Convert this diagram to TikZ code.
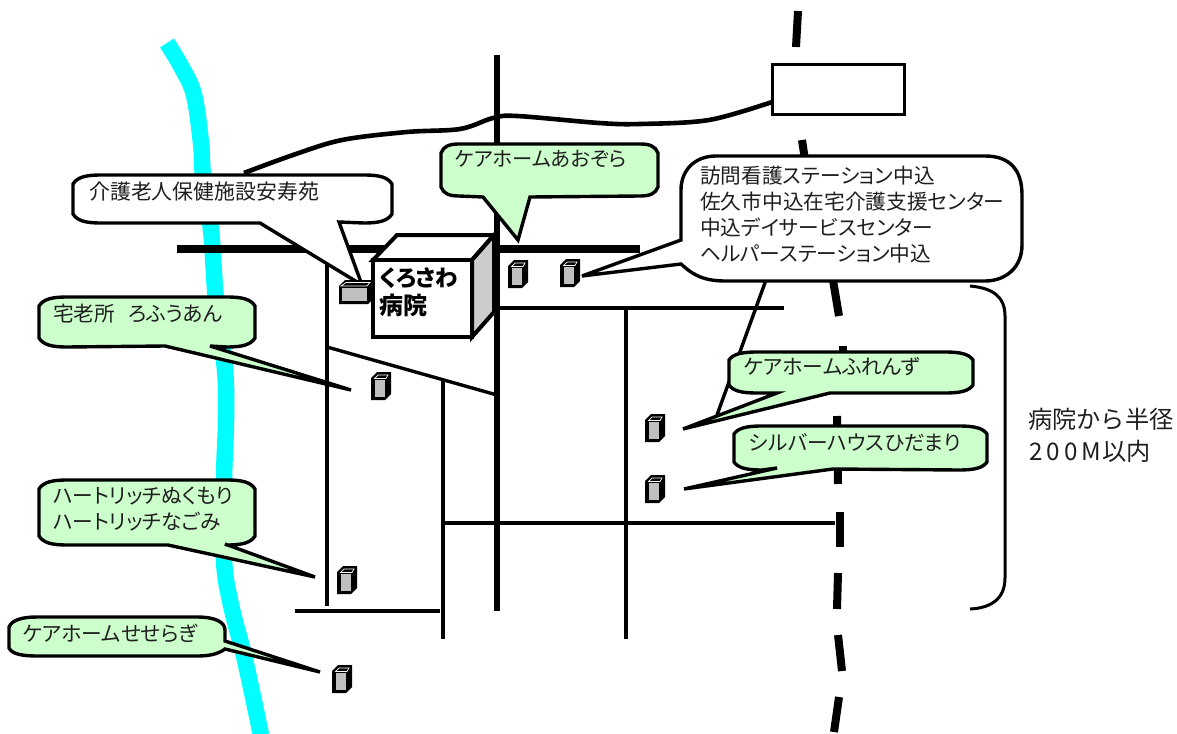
\documentclass[tikz,border=0pt]{standalone}
\usepackage{fontspec}
\setmainfont[RawFeature=+palt]{Noto Sans CJK JP}
\newfontfamily\fullw{Noto Sans CJK JP}
\definecolor{mint}{RGB}{204,255,204}
\definecolor{river}{RGB}{0,255,255}
\tikzset{
  co/.style={draw=black,line width=3.4pt,line join=miter,miter limit=6},
  road/.style={line width=3.4pt},
  rail/.style={line width=8pt},
  lab/.style={anchor=west,inner sep=0pt,font=\fontsize{20.7pt}{26pt}\selectfont,align=left,text=black!88},
}
% fill, x0,y0,x1,y1, ear width, ear height, tail path
\newcommand\callout[8]{%
  \draw[co,fill=#1] (#2,#3+#7) .. controls (#2+0.15*#6,#3+0.25*#7) and (#2+0.45*#6,#3) .. (#2+#6,#3)
   -- (#4-#6,#3) .. controls (#4-0.45*#6,#3) and (#4-0.15*#6,#3+0.25*#7) .. (#4,#3+#7)
   -- (#4,#5-#7) .. controls (#4-0.15*#6,#5-0.25*#7) and (#4-0.45*#6,#5) .. (#4-#6,#5)
   #8 -- (#2+#6,#5) .. controls (#2+0.45*#6,#5) and (#2+0.15*#6,#5-0.25*#7) .. (#2,#5-#7) -- cycle;}
\newcommand\hut[2]{%
  \fill[black] (#1,#2+6) -- (#1+6,#2) -- (#1+20,#2) -- (#1+20,#2+22) -- (#1+14,#2+28) -- (#1,#2+28) -- cycle;
  \fill[black!25] (#1+3.5,#2+8) rectangle (#1+13.5,#2+25);
  \draw[white,line width=.7pt] (#1+3.5,#2+6.5) -- (#1+7,#2+3) -- (#1+17,#2+3) -- (#1+15,#2+6.5) -- cycle;}
\begin{document}
\begin{tikzpicture}[x=1pt,y=-1pt]
\useasboundingbox (0,0) rectangle (1177,733);
% river
\draw[river,line width=16.5pt,line join=round] plot[smooth,tension=.6] coordinates {(167,43) (182,68) (194,95) (201,143) (203,175) (211,230) (216,300) (225,370) (226,420) (224,480) (224,560) (231,605) (245,660) (261,735)};
% thin roads
\draw[road] (327,265) -- (327,606);
\draw[road] (327,347) -- (497,395);
\draw[road] (443,380) -- (443,639);
\draw[road] (626,308) -- (626,639);
\draw[road] (500,308) -- (784,308);
\draw[road] (443,523) -- (835,523);
\draw[road] (295,611) -- (440,611);
\draw[road] (766,280) -- (717,415);
% main roads
\draw[line width=6pt] (497,55) -- (497,611);
\draw[line width=8.5pt] (177,249) -- (640,249);
% wire
\draw[line width=4.6pt] plot[smooth,tension=.55] coordinates {(244,173) (293,155) (342,140) (407,132) (460,129) (493,118) (517,116) (599,123) (640,124) (709,120) (772,102)};
% rail
\draw[rail] (798,11) -- (796,47);
\draw[rail] (802,140) -- (805,160);
\draw[rail] (833,280) -- (839,316);
\draw[rail] (843,346) -- (843,375);
\draw[rail] (837,416) -- (838,484);
\draw[rail] (840,512) -- (840,547);
\draw[rail] (838,573) -- (837,609);
\draw[rail] (838,635) -- (842,671);
\draw[rail] (839,697) -- (834,732);
\node[draw,line width=3pt,fill=white,minimum width=132pt,minimum height=50pt,inner sep=0pt,anchor=north west] (station) at (770.5,63.5) {};
% brace
\draw[line width=3pt] (970,286) .. controls (992,288) and (1005,296) .. (1005,316) -- (1005,578) .. controls (1005,598) and (992,608) .. (970,609);
% callouts
\callout{white}{73}{175}{392}{223}{28}{9}{-- (339,222) -- (362,285) -- (260,223)}
\callout{mint}{441}{144}{658}{196}{18}{9}{-- (530,197) -- (518,240) -- (483,197)}
\draw[co,fill=white] (716,156) -- (985,156) .. controls (1010,156) and (1022,170) .. (1022,195) -- (1022,245) .. controls (1022,268) and (1005,281) .. (985,281) -- (725,281) .. controls (700,281) and (690,272) .. (681,264) -- (582,276) -- (681,240) -- (681,190) .. controls (681,170) and (695,156) .. (716,156) -- cycle;
\callout{mint}{39}{297}{255}{347}{28}{9}{-- (210,346) -- (351,390) -- (165,346)}
\callout{mint}{729}{352}{973}{393}{28}{8}{-- (830,393) -- (683,429) -- (777,393)}
\callout{mint}{734}{426}{987}{470}{28}{8}{-- (833,469) -- (684,489) -- (777,468)}
\callout{mint}{39}{480}{255}{545}{28}{9}{-- (225,544) -- (315,577) -- (168,545)}
\draw[co,fill=mint] (9,627) .. controls (12,620) and (22,617) .. (37,617) -- (197,617) .. controls (215,617) and (225,622) .. (225,630) -- (225,641) -- (320,672) -- (225,649) .. controls (218,654) and (210,656) .. (197,656) -- (37,656) .. controls (22,656) and (12,654) .. (9,648) -- cycle;
% hospital
\draw[line width=4pt,line join=miter,fill=white] (373,260) -- (397,235) -- (494,235) -- (472,260) -- cycle;
\draw[line width=4pt,line join=miter,fill=black!20] (472,260) -- (494,235) -- (494,312) -- (472,337) -- cycle;
\node[draw,line width=4pt,fill=white,minimum width=99pt,minimum height=77pt,inner sep=0pt,anchor=north west] (hospital) at (371,258) {};
\node[anchor=west,inner sep=0pt] (hosp1) at (379,278) {\fontsize{22.5pt}{24pt}\selectfont\bfseries くろさわ};
\node[anchor=west,inner sep=0pt] (hosp2) at (379,305) {\fontsize{24pt}{24pt}\selectfont\bfseries 病院};
% wide hut
\fill[black] (339,286) -- (345,280) -- (373,280) -- (373,299) -- (368,304) -- (339,304) -- cycle;
\fill[black!25] (342,288) rectangle (367,301);
\draw[white,line width=.7pt] (341,286) -- (346,282.5) -- (370,282.5) -- (367,286) -- cycle;
% huts
\hut{508}{260}
\hut{560}{259}
\hut{371}{372}
\hut{645}{414}
\hut{645}{475}
\hut{337}{566}
\hut{332}{665}
% labels
\node[lab,font=\fontsize{20.9pt}{26pt}\selectfont] (t1) at (89,192) {介護老人保健施設安寿苑};
\node[lab,font=\fontsize{20.3pt}{26pt}\selectfont] (t2) at (455,159) {ケアホームあおぞら};
\node[lab,anchor=north west] (t3) at (700,166) {訪問看護ステーション中込\\佐久市中込在宅介護支援センター\\中込デイサービスセンター\\ヘルパーステーション中込};
\node[lab] (t4) at (53,314) {宅老所\hspace{13pt}ろふうあん};
\node[lab] (t5) at (744,367) {ケアホームふれんず};
\node[lab] (t6) at (749,443) {シルバーハウスひだまり};
\node[lab,anchor=north west] (t7) at (53,487) {ハートリッチぬくもり\\ハートリッチなごみ};
\node[lab] (t8) at (23,633) {ケアホームせせらぎ};
\node[lab,font=\fullw\fontsize{24.2pt}{28pt}\selectfont] (t9) at (1028,419) {病院から半径};
\node[lab,font=\fullw\fontsize{24.2pt}{28pt}\selectfont] (t10) at (1029,451) {\makebox[17.6pt][l]{2}\makebox[17.6pt][l]{0}\makebox[17.6pt][l]{0}\makebox[20pt][l]{M}以内};
\end{tikzpicture}
\end{document}
